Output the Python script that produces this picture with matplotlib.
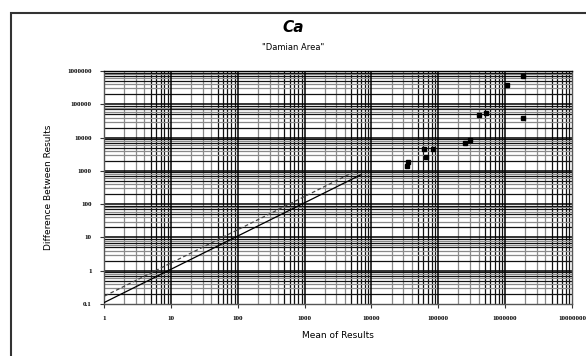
import numpy as np
import matplotlib
matplotlib.use("Agg")
import matplotlib.pyplot as plt
from matplotlib.patches import Rectangle

# --- Data ---
mean_results = [34000, 35500, 61700, 83400, 66100, 251000, 301000,
                401000, 518000, 1067000, 1830000, 1830000]
diff_results = [1400, 1890, 4550, 4460, 2560, 6740, 8470,
                46700, 56000, 380000, 708000, 39600]

# reference lines (y = k * x)
line_x = [1, 7000]
solid_k = 0.11
dashed_k = 0.17

x_ticks = [1, 10, 100, 1000, 10000, 100000, 1000000, 10000000]
x_labels = ["1", "10", "100", "1000", "10000", "100000", "1000000", "10000000"]
y_ticks = [0.1, 1, 10, 100, 1000, 10000, 100000, 1000000]
y_labels = ["0.1", "1", "10", "100", "1000", "10000", "100000", "1000000"]

# --- Figure ---
W, H = 586, 356
fig = plt.figure(figsize=(W / 100, H / 100), dpi=100)
ax = fig.add_axes([104 / W, 1 - 304 / H, 468 / W, 233 / H])
ax.set_xscale("log")
ax.set_yscale("log")
ax.set_xlim(1, 1e7)
ax.set_ylim(0.1, 1e6)

# grid: majors black, minors a mix of grey and black
for e in range(0, 7):
    for s in range(2, 10):
        c = "#8a8a8a" if s <= 4 else "#111111"
        ax.axvline(s * 10.0 ** e, color=c, lw=0.9, zorder=1)
for e in range(-1, 6):
    for s in range(2, 10):
        c = "#111111" if s in (2, 5, 7, 9) else "#8a8a8a"
        ax.axhline(s * 10.0 ** e, color=c, lw=0.9, zorder=1)
for v in x_ticks[1:-1]:
    ax.axvline(v, color="black", lw=1.1, zorder=1)
for v in y_ticks[1:-1]:
    ax.axhline(v, color="black", lw=1.1, zorder=1)

lx = np.array(line_x, dtype=float)
ax.plot(lx, solid_k * lx, color="black", lw=0.9, zorder=3)
ax.plot(lx * 0.85, dashed_k * lx * 0.85, color="#444444", lw=0.9,
        ls=(0, (3, 2)), zorder=3)

ax.plot(mean_results, diff_results, "s", color="black", ms=3.4, zorder=4)

ax.set_xticks(x_ticks, labels=x_labels)
ax.set_yticks(y_ticks, labels=y_labels)
ax.minorticks_off()
ax.tick_params(length=3, width=0.8, color="#333333", labelsize=5, pad=6)
for lab in ax.get_xticklabels() + ax.get_yticklabels():
    lab.set_fontfamily("Liberation Serif")
    lab.set_fontweight("bold")

for sp in ax.spines.values():
    sp.set_color("#555555")
    sp.set_linewidth(1)
ax.spines["top"].set_color("black")

ax.set_xlabel("Mean of Results", fontsize=6.5, labelpad=7)
ax.set_ylabel("Difference Between Results", fontsize=6.5, labelpad=10)

fig.text(0.5, 1 - 27 / H, "Ca", ha="center", va="center",
         fontsize=11, fontweight="bold", fontstyle="italic")
fig.text(0.5, 1 - 47 / H, '"Damian Area"', ha="center", va="center",
         fontsize=6)

# outer frame
fig.add_artist(Rectangle((11 / W, -0.1), 1.2, 1.1 - 13 / H,
                         transform=fig.transFigure, fill=False,
                         edgecolor="#333333", lw=1.5, clip_on=False))

fig.savefig("out.png", dpi=100)
